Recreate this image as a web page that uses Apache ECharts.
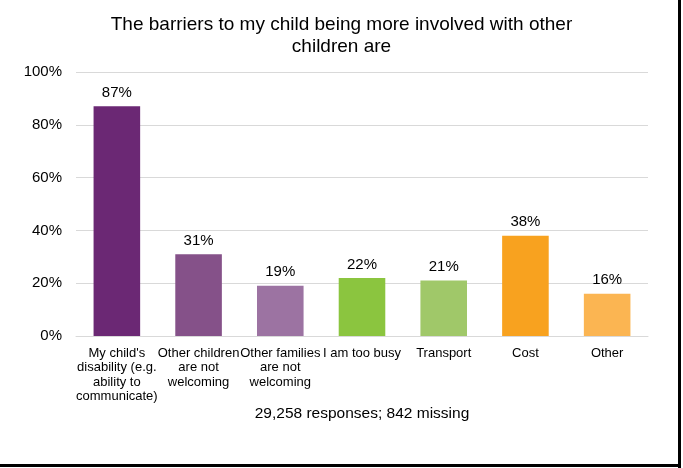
<!DOCTYPE html>
<html>
<head>
<meta charset="utf-8">
<script src="https://cdn.jsdelivr.net/npm/echarts@6/dist/echarts.min.js"></script>
<style>
  html, body { margin: 0; padding: 0; background: #fff; }
  #chart { width: 683px; height: 468px; }
</style>
</head>
<body>
<div id="chart"></div>
<script>
// Barriers to children being more involved with other children (share of respondents)
const categories = [
  "My child's\ndisability (e.g.\nability to\ncommunicate)",
  "Other children\nare not\nwelcoming",
  "Other families\nare not\nwelcoming",
  "I am too busy",
  "Transport",
  "Cost",
  "Other"
];
const values = [87, 31, 19, 22, 21, 38, 16];
const barColors = ["#6B2874", "#855189", "#9C73A2", "#8BC53F", "#A0C869", "#F8A21F", "#FBB552"];
const yTicks = [0, 20, 40, 60, 80, 100];
const titleText = "The barriers to my child being more involved with other\nchildren are";
const footnote = "29,258 responses; 842 missing";

const chart = echarts.init(document.getElementById('chart'), null, { renderer: 'canvas' });
const font = '"Liberation Sans", Arial, sans-serif';

chart.setOption({
  animation: false,
  backgroundColor: '#ffffff',
  title: {
    text: titleText,
    left: 'center',
    top: 9,
    textStyle: { fontFamily: font, fontSize: 19, fontWeight: 'normal', color: '#000', lineHeight: 22 }
  },
  grid: { left: 76, right: 35, top: 72, bottom: 132, containLabel: false },
  xAxis: {
    type: 'category',
    data: categories,
    axisLine: { lineStyle: { color: '#d9d9d9', width: 1 } },
    axisTick: { show: false },
    axisLabel: {
      interval: 0,
      margin: 10,
      fontFamily: font,
      fontSize: 13,
      lineHeight: 14.5,
      color: '#000',
      align: 'center'
    }
  },
  yAxis: {
    type: 'value',
    min: yTicks[0],
    max: yTicks[yTicks.length - 1],
    interval: 20,
    axisLine: { show: false },
    axisTick: { show: false },
    splitLine: { lineStyle: { color: '#d9d9d9', width: 1 } },
    axisLabel: {
      formatter: v => v + '%',
      margin: 14,
      fontFamily: font,
      fontSize: 15,
      color: '#000'
    }
  },
  series: [{
    type: 'bar',
    data: values.map((v, i) => ({ value: v, itemStyle: { color: barColors[i] } })),
    barWidth: '57%',
    label: {
      show: true,
      position: 'top',
      distance: 6,
      formatter: p => p.value + '%',
      fontFamily: font,
      fontSize: 15,
      color: '#000'
    }
  }],
  graphic: [
    {
      type: 'text',
      x: 362,
      y: 414,
      style: { text: footnote, font: '15.5px ' + font, fill: '#000', align: 'center', verticalAlign: 'middle' }
    },
    { type: 'rect', shape: { x: 678, y: 0, width: 3, height: 468 }, style: { fill: '#000' } },
    { type: 'rect', shape: { x: 0, y: 464, width: 681, height: 3 }, style: { fill: '#000' } }
  ]
});
</script>
</body>
</html>
